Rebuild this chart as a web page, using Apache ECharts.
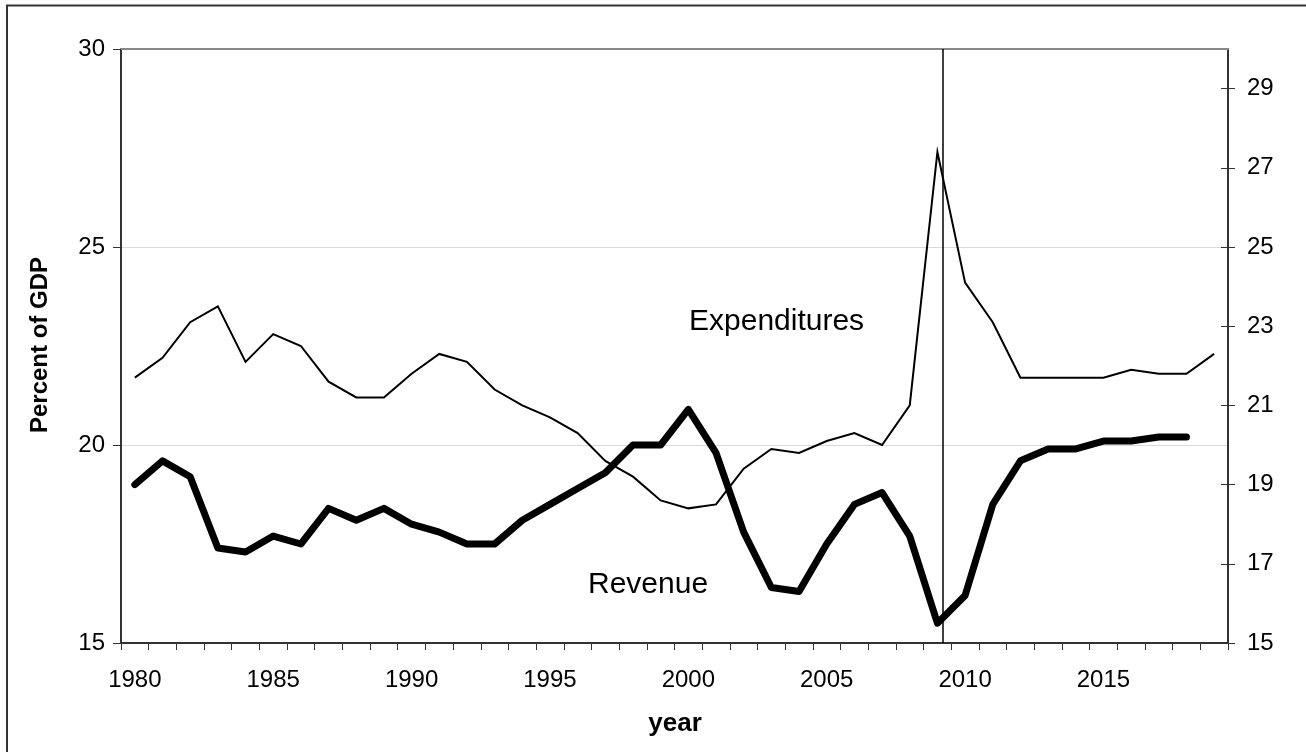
<!DOCTYPE html>
<html>
<head>
<meta charset="utf-8">
<script src="https://cdn.jsdelivr.net/npm/echarts@6/dist/echarts.min.js"></script>
<style>
html,body{margin:0;padding:0;background:#fff;}
#chart{width:1306px;height:752px;}
</style>
</head>
<body>
<div id="chart"></div>
<script>
// ---- data ----
const years = ['1980','1981','1982','1983','1984','1985','1986','1987','1988','1989',
  '1990','1991','1992','1993','1994','1995','1996','1997','1998','1999',
  '2000','2001','2002','2003','2004','2005','2006','2007','2008','2009',
  '2010','2011','2012','2013','2014','2015','2016','2017','2018','2019'];
const expenditures = [21.7,22.2,23.1,23.5,22.1,22.8,22.5,21.6,21.2,21.2,
  21.8,22.3,22.1,21.4,21.0,20.7,20.3,19.6,19.2,18.6,
  18.4,18.5,19.4,19.9,19.8,20.1,20.3,20.0,21.0,27.4,
  24.1,23.1,21.7,21.7,21.7,21.7,21.9,21.8,21.8,22.3];
const revenue = [19.0,19.6,19.2,17.4,17.3,17.7,17.5,18.4,18.1,18.4,
  18.0,17.8,17.5,17.5,18.1,18.5,18.9,19.3,20.0,20.0,
  20.9,19.8,17.8,16.4,16.3,17.5,18.5,18.8,17.7,15.5,
  16.2,18.5,19.6,19.9,19.9,20.1,20.1,20.2,20.2,null];
const leftTicks = [15, 20, 25, 30];
const rightTicks = [15, 17, 19, 21, 23, 25, 27, 29];
const recessionMarkYear = 2009.2;

const FONT = 'Liberation Sans, Arial, sans-serif';
const chart = echarts.init(document.getElementById('chart'), null, {renderer: 'canvas'});

chart.setOption({
  animation: false,
  backgroundColor: '#ffffff',
  textStyle: {fontFamily: FONT},
  grid: {left: 121, right: 78, top: 49, bottom: 109, containLabel: false},
  xAxis: [
    {
      type: 'category',
      data: years,
      boundaryGap: true,
      position: 'bottom',
      axisLine: {show: true, lineStyle: {color: '#333', width: 2}},
      axisTick: {show: true, interval: 0, length: 7, inside: false, lineStyle: {color: '#333', width: 1}},
      axisLabel: {interval: 4, color: '#000', fontSize: 24, fontFamily: FONT, margin: 25},
      splitLine: {show: false}
    },
    {
      type: 'value',
      position: 'top',
      min: 1979.5,
      max: 2019.5,
      axisLine: {show: true, onZero: false, lineStyle: {color: '#888', width: 2}},
      axisTick: {show: false},
      axisLabel: {show: false},
      splitLine: {show: false}
    }
  ],
  yAxis: [
    {
      type: 'value',
      position: 'left',
      min: 15, max: 30, interval: 5,
      axisLine: {show: true, onZero: false, lineStyle: {color: '#333', width: 2}},
      axisTick: {show: true, length: 8, lineStyle: {color: '#333'}},
      axisLabel: {color: '#000', fontSize: 24, fontFamily: FONT, margin: 16,
        customValues: leftTicks},
      splitLine: {show: true, lineStyle: {color: '#d9d9d9', width: 1}}
    },
    {
      type: 'value',
      position: 'right',
      min: 15, max: 30,
      axisLine: {show: true, onZero: false, lineStyle: {color: '#333', width: 2}},
      axisTick: {show: true, length: 7, customValues: rightTicks, lineStyle: {color: '#333'}},
      axisLabel: {color: '#000', fontSize: 24, fontFamily: FONT, margin: 19, customValues: rightTicks},
      splitLine: {show: false}
    },
    {
      type: 'value',
      position: 'right',
      min: 15, max: 30,
      axisLine: {show: false},
      axisTick: {show: true, inside: true, length: 7, customValues: rightTicks, lineStyle: {color: '#333'}},
      axisLabel: {show: false},
      splitLine: {show: false}
    }
  ],
  series: [
    {
      name: 'Expenditures',
      type: 'line',
      xAxisIndex: 0, yAxisIndex: 0,
      data: expenditures,
      symbol: 'none',
      lineStyle: {color: '#000', width: 2, join: 'miter'},
      z: 3
    },
    {
      name: 'Revenue',
      type: 'line',
      xAxisIndex: 0, yAxisIndex: 0,
      data: revenue,
      symbol: 'none',
      connectNulls: false,
      lineStyle: {color: '#000', width: 7, cap: 'round', join: 'round'},
      z: 4
    },
    {
      name: 'marker',
      type: 'line',
      xAxisIndex: 1, yAxisIndex: 0,
      data: [],
      symbol: 'none',
      markLine: {
        silent: true,
        symbol: ['none', 'none'],
        label: {show: false},
        lineStyle: {color: '#000', width: 1.5, type: 'solid'},
        data: [{xAxis: recessionMarkYear}]
      },
      z: 2
    }
  ],
  graphic: [
    {type: 'polyline', shape: {points: [[7, 752], [7, 5.5], [1306, 5.5]]},
      style: {stroke: '#333', lineWidth: 2, fill: null}, z: 10},
    {type: 'text', x: 40, y: 345, rotation: Math.PI / 2,
      style: {text: 'Percent of GDP', font: 'bold 24px ' + FONT, fill: '#000',
        align: 'center', verticalAlign: 'middle'}},
    {type: 'text', x: 675, y: 724,
      style: {text: 'year', font: 'bold 26px ' + FONT, fill: '#000',
        align: 'center', verticalAlign: 'middle'}},
    {type: 'text', x: 689, y: 322,
      style: {text: 'Expenditures', font: '30px ' + FONT, fill: '#000',
        align: 'left', verticalAlign: 'middle'}},
    {type: 'text', x: 588, y: 585,
      style: {text: 'Revenue', font: '30px ' + FONT, fill: '#000',
        align: 'left', verticalAlign: 'middle'}}
  ]
});
</script>
</body>
</html>
